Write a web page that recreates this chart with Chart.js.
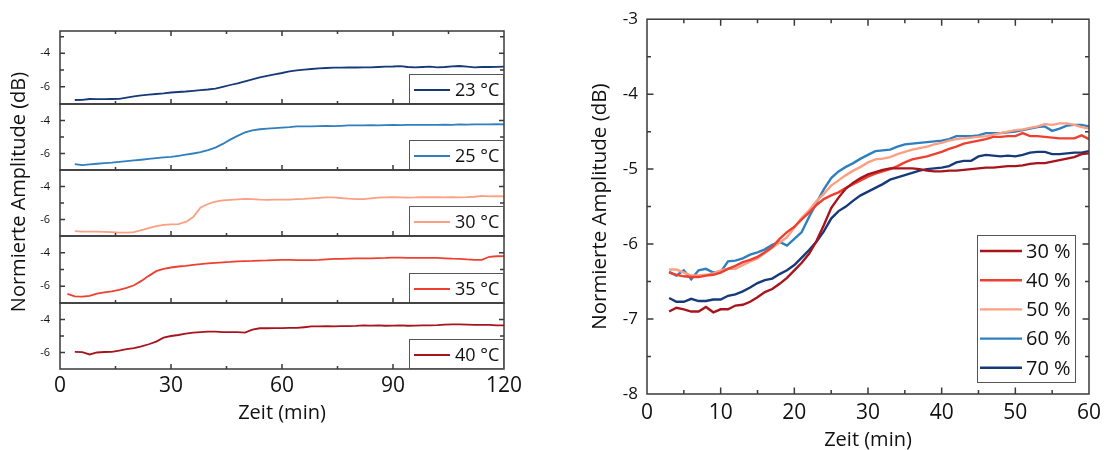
<!DOCTYPE html>
<html><head><meta charset="utf-8">
<script src="https://cdn.jsdelivr.net/npm/chart.js@4/dist/chart.umd.min.js"></script>
<style>
html,body{margin:0;padding:0;background:#fff;}
#wrap{position:relative;width:1120px;height:450px;overflow:hidden;background:#fff;}
canvas{position:absolute;top:0;}
</style></head><body><div id="wrap">
<canvas id="l0" width="540" height="450" style="left:0"></canvas>
<canvas id="l1" width="540" height="450" style="left:0"></canvas>
<canvas id="l2" width="540" height="450" style="left:0"></canvas>
<canvas id="l3" width="540" height="450" style="left:0"></canvas>
<canvas id="l4" width="540" height="450" style="left:0"></canvas>
<canvas id="r" width="560" height="450" style="left:560px"></canvas>
</div>
<script>
// ---------------- data: left panel (temperature series) ----------------
const leftTime = [2,4,6,8,10,12,14,16,18,20,22,24,26,28,30,32,34,36,38,40,
  42,44,46,48,50,52,54,56,58,60,62,64,66,68,70,72,74,76,78,80,
  82,84,86,88,90,92,94,96,98,100,102,104,106,108,110,112,114,116,118,120];
const leftLabels = ['23 °C','25 °C','30 °C','35 °C','40 °C'];
const t23 = [null,-6.80,-6.79,-6.74,-6.75,-6.75,-6.74,-6.73,-6.66,-6.58,
  -6.52,-6.48,-6.44,-6.40,-6.35,-6.32,-6.29,-6.25,-6.21,-6.17,
  -6.12,-6.01,-5.90,-5.80,-5.68,-5.56,-5.44,-5.35,-5.26,-5.18,
  -5.08,-5.02,-4.98,-4.94,-4.90,-4.88,-4.86,-4.86,-4.85,-4.85,
  -4.84,-4.84,-4.82,-4.80,-4.79,-4.77,-4.82,-4.84,-4.82,-4.80,
  -4.84,-4.82,-4.78,-4.76,-4.80,-4.84,-4.82,-4.82,-4.81,-4.80];
const t25 = [null,-6.64,-6.71,-6.66,-6.62,-6.58,-6.55,-6.51,-6.46,-6.42,
  -6.38,-6.33,-6.28,-6.24,-6.20,-6.14,-6.07,-6.00,-5.92,-5.80,
  -5.64,-5.42,-5.16,-4.93,-4.72,-4.60,-4.53,-4.49,-4.46,-4.43,
  -4.40,-4.36,-4.35,-4.35,-4.34,-4.33,-4.34,-4.32,-4.30,-4.30,
  -4.29,-4.28,-4.29,-4.28,-4.27,-4.28,-4.27,-4.26,-4.27,-4.26,
  -4.26,-4.25,-4.26,-4.24,-4.25,-4.24,-4.24,-4.23,-4.22,-4.23];
const t30 = [null,-6.71,-6.73,-6.74,-6.73,-6.75,-6.77,-6.79,-6.79,-6.77,
  -6.65,-6.52,-6.40,-6.33,-6.30,-6.28,-6.15,-5.85,-5.27,-5.06,
  -4.92,-4.84,-4.81,-4.78,-4.75,-4.76,-4.80,-4.81,-4.80,-4.80,
  -4.79,-4.77,-4.75,-4.72,-4.69,-4.66,-4.66,-4.70,-4.74,-4.77,
  -4.76,-4.72,-4.68,-4.66,-4.65,-4.66,-4.67,-4.66,-4.64,-4.65,
  -4.65,-4.66,-4.64,-4.66,-4.65,-4.62,-4.57,-4.60,-4.59,-4.60];
const t35 = [-6.45,-6.61,-6.62,-6.58,-6.44,-6.37,-6.30,-6.21,-6.10,-5.94,
  -5.68,-5.38,-5.10,-4.96,-4.88,-4.82,-4.78,-4.73,-4.68,-4.64,
  -4.60,-4.57,-4.55,-4.52,-4.50,-4.49,-4.47,-4.46,-4.44,-4.43,
  -4.43,-4.44,-4.44,-4.44,-4.42,-4.39,-4.37,-4.36,-4.35,-4.34,
  -4.33,-4.33,-4.32,-4.31,-4.29,-4.29,-4.31,-4.31,-4.30,-4.30,
  -4.31,-4.33,-4.35,-4.36,-4.40,-4.42,-4.42,-4.24,-4.21,-4.20];
const t40 = [null,-5.96,-5.98,-6.12,-6.00,-5.97,-5.96,-5.88,-5.80,-5.73,
  -5.63,-5.50,-5.34,-5.10,-5.00,-4.94,-4.86,-4.80,-4.76,-4.73,
  -4.74,-4.77,-4.76,-4.76,-4.80,-4.62,-4.53,-4.53,-4.52,-4.52,
  -4.51,-4.51,-4.47,-4.42,-4.42,-4.41,-4.42,-4.40,-4.40,-4.39,
  -4.36,-4.37,-4.36,-4.38,-4.37,-4.36,-4.38,-4.37,-4.36,-4.35,
  -4.34,-4.31,-4.30,-4.30,-4.31,-4.32,-4.32,-4.33,-4.35,-4.36];
const leftXTicks = [0,30,60,90,120];
const leftXMinor = [15,45,75,105];
const leftYTicks = [-6,-4];
const leftYMinor = [-7,-5,-3];

// ---------------- data: right panel (humidity series) ----------------
const rightTime = [3,4,5,6,7,8,9,10,11,12,13,14,15,16,17,18,19,20,21,22,
  23,24,25,26,27,28,29,30,31,32,33,34,35,36,37,38,39,40,41,42,
  43,44,45,46,47,48,49,50,51,52,53,54,55,56,57,58,59,60];
const rightLabels = ['30 %','40 %','50 %','60 %','70 %'];
const h30 = [-6.90,-6.85,-6.87,-6.90,-6.90,-6.84,-6.91,-6.87,-6.87,-6.82,
  -6.81,-6.77,-6.71,-6.64,-6.60,-6.53,-6.45,-6.35,-6.25,-6.13,
  -5.96,-5.75,-5.52,-5.38,-5.26,-5.18,-5.12,-5.07,-5.04,-5.01,
  -4.99,-4.99,-4.99,-4.99,-5.00,-5.02,-5.03,-5.03,-5.02,-5.02,
  -5.01,-5.00,-4.99,-4.98,-4.98,-4.97,-4.96,-4.96,-4.95,-4.93,
  -4.92,-4.92,-4.90,-4.88,-4.86,-4.84,-4.80,-4.79];
const h40 = [-6.38,-6.41,-6.43,-6.44,-6.44,-6.42,-6.41,-6.38,-6.33,-6.29,
  -6.24,-6.21,-6.17,-6.11,-6.04,-5.93,-5.84,-5.77,-5.67,-5.58,
  -5.48,-5.40,-5.35,-5.31,-5.25,-5.20,-5.15,-5.10,-5.06,-5.03,
  -5.00,-4.96,-4.91,-4.87,-4.85,-4.83,-4.80,-4.77,-4.73,-4.70,
  -4.66,-4.64,-4.62,-4.60,-4.57,-4.57,-4.56,-4.56,-4.52,-4.56,
  -4.56,-4.57,-4.58,-4.59,-4.59,-4.59,-4.55,-4.60];
const h50 = [-6.34,-6.34,-6.38,-6.42,-6.42,-6.41,-6.39,-6.35,-6.33,-6.33,
  -6.28,-6.23,-6.19,-6.12,-6.05,-5.98,-5.91,-5.78,-5.65,-5.55,
  -5.43,-5.33,-5.22,-5.15,-5.08,-5.02,-4.97,-4.91,-4.87,-4.86,
  -4.84,-4.80,-4.77,-4.74,-4.72,-4.70,-4.67,-4.65,-4.62,-4.60,
  -4.59,-4.58,-4.57,-4.56,-4.54,-4.52,-4.50,-4.48,-4.47,-4.45,
  -4.43,-4.40,-4.41,-4.39,-4.39,-4.41,-4.44,-4.46];
const h60 = [-6.37,-6.42,-6.35,-6.47,-6.35,-6.33,-6.38,-6.37,-6.23,-6.22,
  -6.19,-6.14,-6.11,-6.07,-6.01,-5.97,-6.02,-5.93,-5.84,-5.64,
  -5.45,-5.27,-5.12,-5.03,-4.97,-4.92,-4.86,-4.81,-4.76,-4.75,
  -4.74,-4.70,-4.67,-4.66,-4.65,-4.64,-4.63,-4.62,-4.60,-4.56,
  -4.56,-4.56,-4.55,-4.52,-4.52,-4.52,-4.51,-4.50,-4.48,-4.46,
  -4.44,-4.43,-4.49,-4.46,-4.42,-4.41,-4.41,-4.43];
const h70 = [-6.72,-6.77,-6.77,-6.73,-6.76,-6.76,-6.74,-6.74,-6.69,-6.67,
  -6.63,-6.58,-6.52,-6.48,-6.46,-6.40,-6.35,-6.28,-6.18,-6.08,
  -5.97,-5.83,-5.66,-5.56,-5.50,-5.42,-5.35,-5.30,-5.25,-5.20,
  -5.14,-5.11,-5.08,-5.05,-5.02,-5.00,-4.99,-4.98,-4.96,-4.91,
  -4.89,-4.89,-4.83,-4.81,-4.82,-4.83,-4.82,-4.83,-4.81,-4.78,
  -4.77,-4.77,-4.80,-4.80,-4.79,-4.78,-4.78,-4.76];
const rightXMinor = [5,15,25,35,45,55];
const rightYMinor = [-3.5,-4.5,-5.5,-6.5,-7.5];
const yTitle = 'Normierte Amplitude (dB)';
const xTitle = 'Zeit (min)';

// ---------------- styling ----------------
const NAVY='#163a78', BLUE='#2f7fc0', SALMON='#fc9f82', RED='#ee4030', DARKRED='#a8141c';
const TXT = '#111111', FRAME = '#3a3a3a';
Chart.defaults.font.family = '"Open Sans", sans-serif';
Chart.defaults.color = TXT;

const frameTicks = {
  id: 'frameTicks',
  afterDraw(chart, args, o) {
    const {ctx, chartArea: a} = chart;
    const x = chart.scales.x, y = chart.scales.y;
    ctx.save();
    ctx.strokeStyle = FRAME;
    ctx.lineWidth = o.lw;
    ctx.beginPath();
    const xt = (vals, len) => vals.forEach(v => {
      const p = x.getPixelForValue(v);
      if (p <= a.left + 1 || p >= a.right - 1) return;
      ctx.moveTo(p, a.bottom); ctx.lineTo(p, a.bottom - len);
      if (o.topTicks) { ctx.moveTo(p, a.top); ctx.lineTo(p, a.top + len); }
    });
    const yt = (vals, len) => vals.forEach(v => {
      const p = y.getPixelForValue(v);
      if (p <= a.top + 1 || p >= a.bottom - 1) return;
      ctx.moveTo(a.left, p); ctx.lineTo(a.left + len, p);
      ctx.moveTo(a.right, p); ctx.lineTo(a.right - len, p);
    });
    xt(o.xMajor, o.major); xt(o.xMinor, o.minor);
    yt(o.yMajor, o.major); yt(o.yMinor, o.yMinorLen || o.minor);
    ctx.stroke();
    ctx.strokeRect(a.left, a.top, a.right - a.left, a.bottom - a.top);
    ctx.restore();
  }
};

const boxLegend = {
  id: 'boxLegend',
  afterDraw(chart, args, o) {
    if (!o.show) return;
    const {ctx, chartArea: a} = chart;
    const bx = a.right - o.r - o.w, by = a.bottom - o.b - o.h;
    ctx.save();
    ctx.fillStyle = '#fff';
    ctx.fillRect(bx, by, o.w, o.h);
    ctx.strokeStyle = '#555';
    ctx.lineWidth = 1;
    ctx.strokeRect(bx + 0.5, by + 0.5, o.w - 1, o.h - 1);
    ctx.font = o.size + 'px "Open Sans", sans-serif';
    ctx.textBaseline = 'middle';
    ctx.textAlign = 'left';
    chart.data.datasets.forEach((ds, i) => {
      const cy = by + o.first + i * o.step;
      ctx.strokeStyle = ds.borderColor;
      ctx.lineWidth = o.lineW;
      ctx.beginPath();
      ctx.moveTo(bx + o.l1, cy); ctx.lineTo(bx + o.l2, cy);
      ctx.stroke();
      ctx.fillStyle = TXT;
      ctx.fillText(ds.label, bx + o.tx, cy + 1);
    });
    ctx.restore();
  }
};

// panel-wide vertical title for the stacked left panel
const sideTitle = {
  id: 'sideTitle',
  afterDraw(chart, args, o) {
    if (!o.text) return;
    const {ctx} = chart;
    ctx.save();
    ctx.translate(o.x, o.y);
    ctx.rotate(-Math.PI / 2);
    ctx.font = o.size + 'px "Open Sans", sans-serif';
    ctx.fillStyle = TXT;
    ctx.textAlign = 'center';
    ctx.textBaseline = 'middle';
    ctx.fillText(o.text, 0, 0);
    ctx.restore();
  }
};

// ---------------- left panel ----------------
const leftData = [t23, t25, t30, t35, t40];
const leftColors = [NAVY, BLUE, SALMON, RED, DARKRED];
const leftFrames = [[31,104,-7.04,-2.66],[104,170,-7,-3],[170,236,-7,-3],[236,303,-7,-3],[303,369,-7,-3]];

leftData.forEach((vals, i) => {
  const [T, B, ymin, ymax] = leftFrames[i];
  const last = i === leftData.length - 1;
  new Chart(document.getElementById('l' + i), {
    type: 'line',
    data: { datasets: [{
      label: leftLabels[i],
      data: leftTime.map((t, k) => ({x: t, y: vals[k]})),
      borderColor: leftColors[i], borderWidth: 1.8, pointRadius: 0, tension: 0, fill: false
    }]},
    plugins: [frameTicks, boxLegend, sideTitle],
    options: {
      responsive: false, animation: false, devicePixelRatio: 1, events: [],
      layout: { padding: { top: T, bottom: last ? 450 - B - 56 : 450 - B, left: 0, right: 36 } },
      plugins: {
        legend: { display: false }, tooltip: { enabled: false },
        frameTicks: { lw: 1.5, major: 5, minor: 3, yMinorLen: 4, topTicks: i === 0,
          xMajor: leftXTicks, xMinor: leftXMinor, yMajor: leftYTicks, yMinor: leftYMinor },
        boxLegend: { show: true, r: 0, b: 0, w: 95, h: 30, first: 16, step: 0,
          l1: 5, l2: 41, tx: 46, size: 18, lineW: 1.8 },
        sideTitle: { text: i === 2 ? yTitle : '', x: 19, y: 192, size: 20 }
      },
      scales: {
        x: {
          type: 'linear', min: 0, max: 120, display: last,
          afterBuildTicks: s => { s.ticks = leftXTicks.map(v => ({value: v})); },
          ticks: { font: { size: 21 }, color: TXT, padding: 4, maxRotation: 0, autoSkip: false, callback: v => String(v) },
          grid: { display: false, drawTicks: false }, border: { display: false },
          title: { display: true, text: xTitle, font: { size: 20 }, color: TXT, padding: { top: 0, bottom: 0 } },
          afterFit: s => { s.height = last ? 56 : 0; }
        },
        y: {
          type: 'linear', min: ymin, max: ymax,
          afterBuildTicks: s => { s.ticks = leftYTicks.map(v => ({value: v})); },
          ticks: { font: { size: 11 }, color: TXT, padding: 10, callback: v => String(v) },
          grid: { display: false, drawTicks: false }, border: { display: false },
          title: { display: false },
          afterFit: s => { s.width = 60; }
        }
      }
    }
  });
});

// ---------------- right panel ----------------
const rightData = [h30, h40, h50, h60, h70];
const rightColors = [DARKRED, RED, SALMON, BLUE, NAVY];
new Chart(document.getElementById('r'), {
  type: 'line',
  data: { datasets: rightData.map((vals, i) => ({
    label: rightLabels[i],
    data: rightTime.map((t, k) => ({x: t, y: vals[k]})),
    borderColor: rightColors[i], borderWidth: 2.4, pointRadius: 0, tension: 0, fill: false
  }))},
  plugins: [frameTicks, boxLegend],
  options: {
    responsive: false, animation: false, devicePixelRatio: 1, events: [],
    layout: { padding: { top: 19, bottom: 0, left: 0, right: 31 } },
    plugins: {
      legend: { display: false }, tooltip: { enabled: false },
      frameTicks: { lw: 1.5, major: 6.5, minor: 4, topTicks: true,
        xMajor: [10,20,30,40,50], xMinor: rightXMinor, yMajor: [-4,-5,-6,-7], yMinor: rightYMinor },
      boxLegend: { show: true, r: 13, b: 11, w: 99, h: 148, first: 16, step: 29.2,
        l1: 3, l2: 45, tx: 49, size: 20, lineW: 2.4 }
    },
    scales: {
      x: {
        type: 'linear', min: 0, max: 60,
        ticks: { stepSize: 10, font: { size: 21 }, color: TXT, padding: 6, maxRotation: 0, autoSkip: false, callback: v => String(v) },
        grid: { display: false, drawTicks: false }, border: { display: false },
        title: { display: true, text: xTitle, font: { size: 20, lineHeight: 1 }, color: TXT, padding: { top: 0, bottom: 0 } },
        afterFit: s => { s.height = 56; }
      },
      y: {
        type: 'linear', min: -8, max: -3,
        ticks: { stepSize: 1, font: { size: 17 }, color: TXT, padding: 9, callback: v => String(v) },
        grid: { display: false, drawTicks: false }, border: { display: false },
        title: { display: true, text: yTitle, font: { size: 20.5 }, color: TXT, padding: { top: 28, bottom: 0 } },
        afterFit: s => { s.width = 87; }
      }
    }
  }
});
</script>
</body></html>
